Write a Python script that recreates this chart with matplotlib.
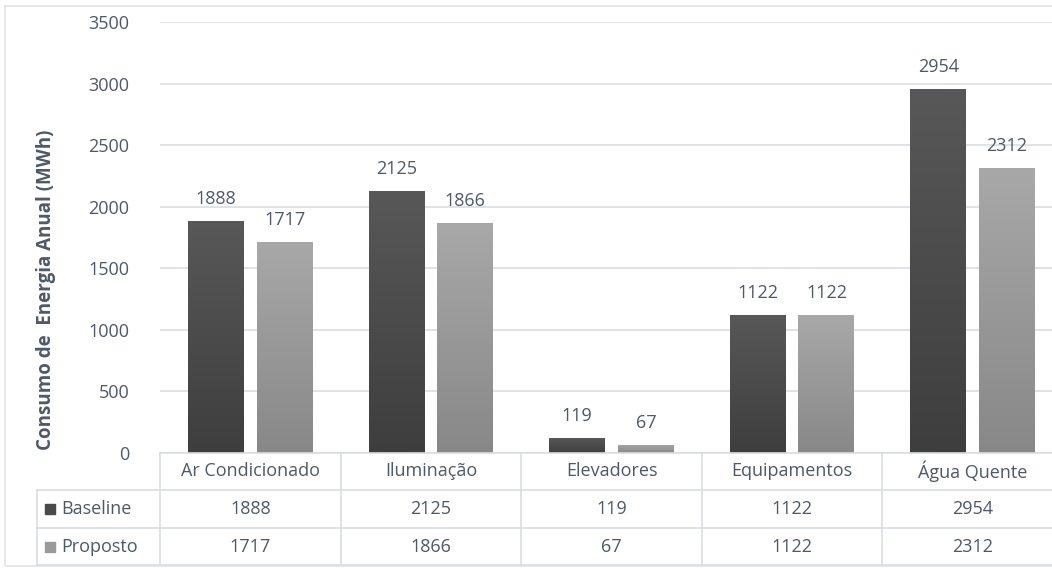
import numpy as np
import matplotlib
matplotlib.use("Agg")
import matplotlib.pyplot as plt
from matplotlib.colors import LinearSegmentedColormap
from matplotlib.patches import Rectangle

plt.rcParams["font.family"] = ["Open Sans", "DejaVu Sans"]

categories = ["Ar Condicionado", "Iluminação", "Elevadores", "Equipamentos", "Água Quente"]
baseline = [1888, 2125, 119, 1122, 2954]
proposto = [1717, 1866, 67, 1122, 2312]
series_names = ["Baseline", "Proposto"]

text_color = "#4f5869"
line_color = "#d9dde3"
fs = 13
W, H = 1052, 568

fig = plt.figure(figsize=(W / 100, H / 100), dpi=100)
ax = fig.add_axes([160 / W, 1 - 453 / H, (1063 - 160) / W, (453 - 22) / H])

cmaps = [
    LinearSegmentedColormap.from_list("b", ["#3e3e3e", "#585858"]),
    LinearSegmentedColormap.from_list("p", ["#888888", "#a8a8a8"]),
]
swatch = ["#4a4a4a", "#9a9a9a"]

x = np.arange(len(categories))
width = 0.31
offset = 0.19
grad = np.linspace(0, 1, 256).reshape(-1, 1)

for i, vals in enumerate([baseline, proposto]):
    pos = x - offset if i == 0 else x + offset
    bars = ax.bar(pos, vals, width, color="none", zorder=3)
    for b, v in zip(bars, vals):
        x0 = b.get_x()
        im = ax.imshow(grad, cmap=cmaps[i], aspect="auto", origin="lower",
                       extent=[x0, x0 + width, 0, v], zorder=3)
        im.set_clip_path(b)
        ax.text(b.get_x() + width / 2, v + 105, str(v), ha="center", va="bottom",
                fontsize=fs, color=text_color)

ax.set_xlim(-0.5, len(categories) - 0.5)
ax.set_ylim(0, 3500)
ax.set_yticks(range(0, 3501, 500))
ax.tick_params(axis="y", length=0, pad=22, labelsize=fs, labelcolor=text_color)
ax.set_xticks([])
ax.grid(axis="y", color=line_color, linewidth=1.2, zorder=0)
ax.set_axisbelow(True)
for s in ax.spines.values():
    s.set_visible(False)

fig.text(46 / W, 1 - 290 / H, "Consumo de  Energia Anual (MWh)", rotation=90,
         ha="center", va="center", fontsize=13.5, fontweight="bold", color=text_color)

# data table below the axes
fx = lambda px: px / W
fy = lambda py: 1 - py / H
col_edges = [160 + i * 180.6 for i in range(len(categories) + 1)]
rows = [453, 490, 528, 565]

def hline(x0, x1, y):
    fig.add_artist(plt.Line2D([fx(x0), fx(x1)], [fy(y), fy(y)], color=line_color, lw=1.2))

def vline(xp, y0, y1):
    fig.add_artist(plt.Line2D([fx(xp), fx(xp)], [fy(y0), fy(y1)], color=line_color, lw=1.2))

hline(160, 1060, rows[0])
for r in rows[1:]:
    hline(37, 1060, r)
vline(37, rows[1], rows[3])
for ce in col_edges:
    vline(ce, rows[0], rows[3])

for j, cat in enumerate(categories):
    cx = (col_edges[j] + col_edges[j + 1]) / 2
    fig.text(fx(cx), fy((rows[0] + rows[1]) / 2), cat, ha="center", va="center",
             fontsize=fs, color=text_color)
    for i, vals in enumerate([baseline, proposto]):
        fig.text(fx(cx), fy((rows[i + 1] + rows[i + 2]) / 2), str(vals[j]),
                 ha="center", va="center", fontsize=fs, color=text_color)

for i, name in enumerate(series_names):
    cy = (rows[i + 1] + rows[i + 2]) / 2
    fig.add_artist(Rectangle((fx(45), fy(cy + 5)), 10 / W, 10 / H, color=swatch[i]))
    fig.text(fx(61), fy(cy), name, ha="left", va="center", fontsize=fs, color=text_color)

# chart border
fig.add_artist(Rectangle((fx(5), fy(566)), (1060 - 5) / W, (566 - 6) / H,
                         fill=False, edgecolor="#e2e4e8", lw=1.2))

fig.savefig("out.png", dpi=100)
